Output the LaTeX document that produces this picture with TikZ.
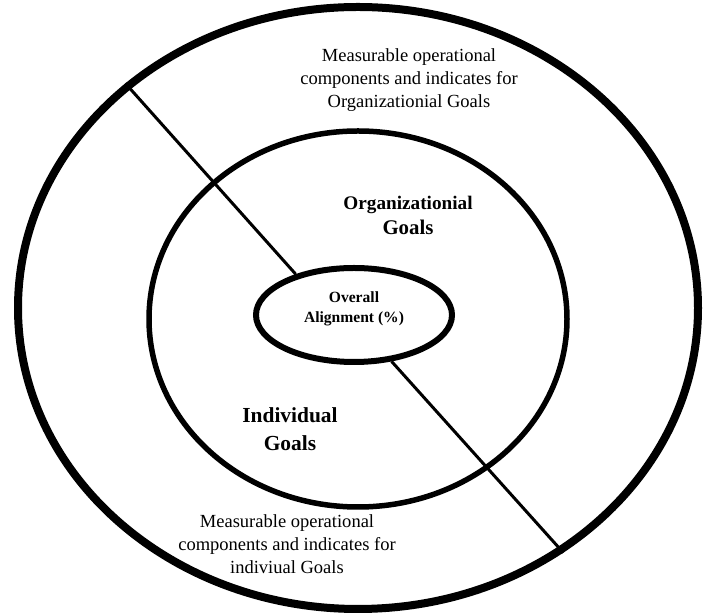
\documentclass[tikz,border=0pt]{standalone}
\usepackage{fontspec}
\setmainfont{Liberation Serif}
\usepackage{tikz}
\usetikzlibrary{positioning,shapes,shapes.geometric}

\begin{document}
\begin{tikzpicture}[
	ring/.style={draw, ellipse, inner sep=0pt},
	note/.style={draw=none, align=center, font=\fontsize{15.8}{19.6}\selectfont},
	goal/.style={draw=none, align=center}]
	\useasboundingbox (0, 0) rectangle (21.15, 18.48);
	\node [ring, line width=0.24cm, minimum width=20.4cm, minimum height=18.06cm] (outer) at (10.74, 9.24) {};
	\node [ring, line width=0.165cm, minimum width=12.54cm, minimum height=11.28cm] (middle) at (10.74, 8.91) {};
	\node [ring, line width=0.18cm, minimum width=5.88cm, minimum height=2.82cm] (inner) at (10.62, 9.03) {};
	\node [goal, font=\bfseries\fontsize{13.3}{17}\selectfont] (overall) at (10.62, 9.21) {Overall\\Alignment (\%)};
	\node [note] (orgnote) at (12.27, 16.08) {Measurable operational\\components and indicates for\\Organizationial Goals};
	\node [note] (indnote) at (8.61, 2.16) {Measurable operational\\components and indicates for\\indiviual Goals};
	\node [goal, font=\bfseries\fontsize{16.4}{21.3}\selectfont] (orggoal) at (12.24, 12.03) {Organizationial\\{\fontsize{17.8}{21.3}\selectfont Goals}};
	\node [goal, font=\bfseries\fontsize{18.3}{23.5}\selectfont] (indgoal) at (8.7, 5.6) {Individual\\Goals};
	\path [draw, line width=0.09cm] (outer.136.8) -- (inner.145.3);
	\path [draw, line width=0.09cm] (inner.309.4) -- (outer.310.5);
\end{tikzpicture}
\end{document}
